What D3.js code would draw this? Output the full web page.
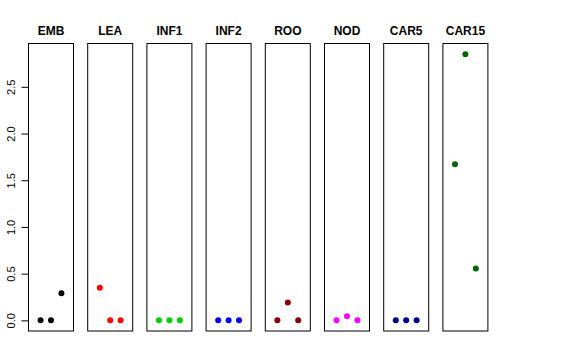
<!DOCTYPE html>
<html>
<head>
<meta charset="utf-8">
<script src="https://cdn.jsdelivr.net/npm/d3@7"></script>
<style>
  body { margin: 0; background: #fff; }
  svg { font-family: "Liberation Sans", Arial, sans-serif; }
</style>
</head>
<body>
<svg id="chart" width="576" height="360"></svg>
<script>
// samples shown as one small panel each
const categories = ["EMB", "LEA", "INF1", "INF2", "ROO", "NOD", "CAR5", "CAR15"];
const colors = ["#000000", "#ff0000", "#00cd00", "#0000ff", "#8b0000", "#ff00ff", "#00008b", "#006400"];

// three replicate values per panel
const EMB = [0, 0, 0.29];
const LEA = [0.35, 0, 0];
const INF1 = [0, 0, 0];
const INF2 = [0, 0, 0];
const ROO = [0, 0.19, 0];
const NOD = [0, 0.045, 0];
const CAR5 = [0, 0, 0];
const CAR15 = [1.67, 2.85, 0.555];
const seriesValues = [EMB, LEA, INF1, INF2, ROO, NOD, CAR5, CAR15];

const yTicks = [0, 0.5, 1.0, 1.5, 2.0, 2.5];

const margins = {left: 28.5, top: 43.5, bottom: 29};
const width = 576, height = 360;
const panelWidth = 45, panelStep = 59.2;

const svg = d3.select("#chart");

// shared y scale, R-style 4% padding around the data range
const yMax = d3.max(seriesValues.flat());
const yPad = yMax * 0.04;
const scaleY = d3.scaleLinear()
    .domain([-yPad, yMax + yPad])
    .range([height - margins.bottom, margins.top]);

const scaleX = d3.scaleLinear()
    .domain([-0.16, 4.16])
    .range([0, panelWidth]);

categories.forEach((name, i) => {
    const x0 = margins.left + i * panelStep;
    const g = svg.append("g").attr("transform", `translate(${x0}, 0)`);

    g.append("rect")
        .attr("x", 0)
        .attr("y", margins.top)
        .attr("width", panelWidth)
        .attr("height", height - margins.bottom - margins.top)
        .attr("fill", "none")
        .attr("stroke", "#000")
        .attr("stroke-width", 1);

    g.append("text")
        .attr("x", panelWidth / 2)
        .attr("y", 35)
        .attr("text-anchor", "middle")
        .style("font-weight", "bold")
        .style("font-size", "12px")
        .text(name);

    g.selectAll("circle")
        .data(seriesValues[i])
        .enter()
        .append("circle")
        .attr("cx", (d, j) => scaleX(j + 1))
        .attr("cy", d => scaleY(d))
        .attr("r", 3)
        .attr("fill", colors[i]);
});

// y axis only on the first panel
const yAxis = d3.axisLeft(scaleY)
    .tickValues(yTicks)
    .tickSize(7)
    .tickFormat(d3.format(".1f"));

const axisG = svg.append("g")
    .attr("transform", `translate(${margins.left}, 0)`)
    .call(yAxis);

axisG.select(".domain").remove();
axisG.selectAll(".tick line").attr("stroke", "#000");
axisG.selectAll(".tick text")
    .attr("x", 0)
    .attr("dy", 0)
    .attr("transform", "translate(-14, 0) rotate(-90)")
    .attr("text-anchor", "middle")
    .style("font-size", "11px")
    .style("font-family", "Liberation Sans, Arial, sans-serif")
    .attr("fill", "#000");
</script>
</body>
</html>
